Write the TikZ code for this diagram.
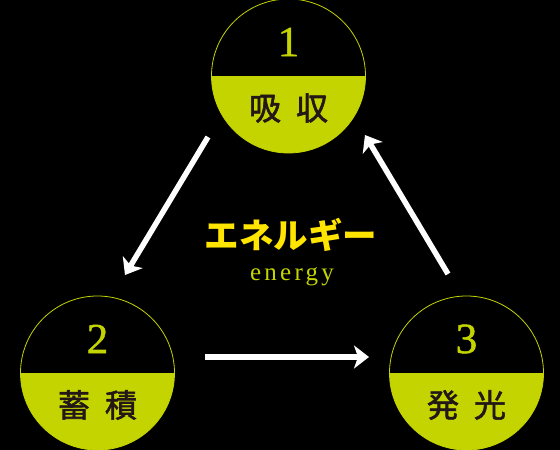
\documentclass[tikz,border=0pt]{standalone}
\usepackage{fontspec}
\setmainfont{Liberation Serif}
\newfontfamily\jpfont{Noto Sans CJK JP}
\newfontfamily\jpmidfont[FakeBold=1.8]{Noto Sans CJK JP}
\newfontfamily\numfont[FakeBold=1.2]{Liberation Serif}
\newfontfamily\spacedfont[LetterSpace=13]{Liberation Serif}
\usetikzlibrary{arrows.meta}
\definecolor{lime}{HTML}{C3D400}
\definecolor{sun}{HTML}{FFE500}
\definecolor{ink}{HTML}{231815}

\begin{document}
\begin{tikzpicture}[x=1pt, y=-1pt,
  stage/.style={circle, draw=lime, line width=0.8pt, minimum size=154pt, inner sep=0pt,
    path picture={\fill[lime] (path picture bounding box.west) rectangle (path picture bounding box.south east);}},
  num/.style={inner sep=0pt, text=lime, font=\numfont\fontsize{43}{43}\selectfont},
  word/.style={inner sep=0pt, text=ink, font=\jpmidfont\fontsize{32}{32}\selectfont},
  flow/.style={draw=white, line width=5.5pt, -{Stealth[length=15pt, width=23pt, inset=4pt]}}]

% Background
\fill[black] (0,0) rectangle (560,450);
\useasboundingbox (0,0) rectangle (560,450);

% Stages
\foreach \name/\x/\y/\n/\w in {absorb/288.5/76/1/吸\hspace{0.47em}収,
                              store/97.5/373/2/蓄\hspace{0.47em}積,
                              emit/466.5/373/3/発\hspace{0.47em}光} {
    \node[stage] (\name) at (\x,\y) {};
    \node[num] (\name-num) at (\x,\y-34) {\n};
    \node[word] (\name-word) at (\x,\y+32) {\w};
}

% Centre label
\node[text=sun, font=\jpfont\bfseries\fontsize{34.5}{34.5}\selectfont] (energy-jp) at (291,235) {エネルギー};
\node[inner sep=0pt, text=lime, font=\spacedfont\fontsize{25}{25}\selectfont] (energy-en) at (292,277) {energy};

% Cycle arrows
\coordinate (a1s) at (208,137);
\coordinate (a1e) at (125,275);
\coordinate (a2s) at (205,357);
\coordinate (a2e) at (369,357);
\coordinate (a3s) at (448,274);
\coordinate (a3e) at (365,135);
\draw[flow] (a1s) -- (a1e);
\draw[flow] (a2s) -- (a2e);
\draw[flow] (a3s) -- (a3e);

\end{tikzpicture}
\end{document}
